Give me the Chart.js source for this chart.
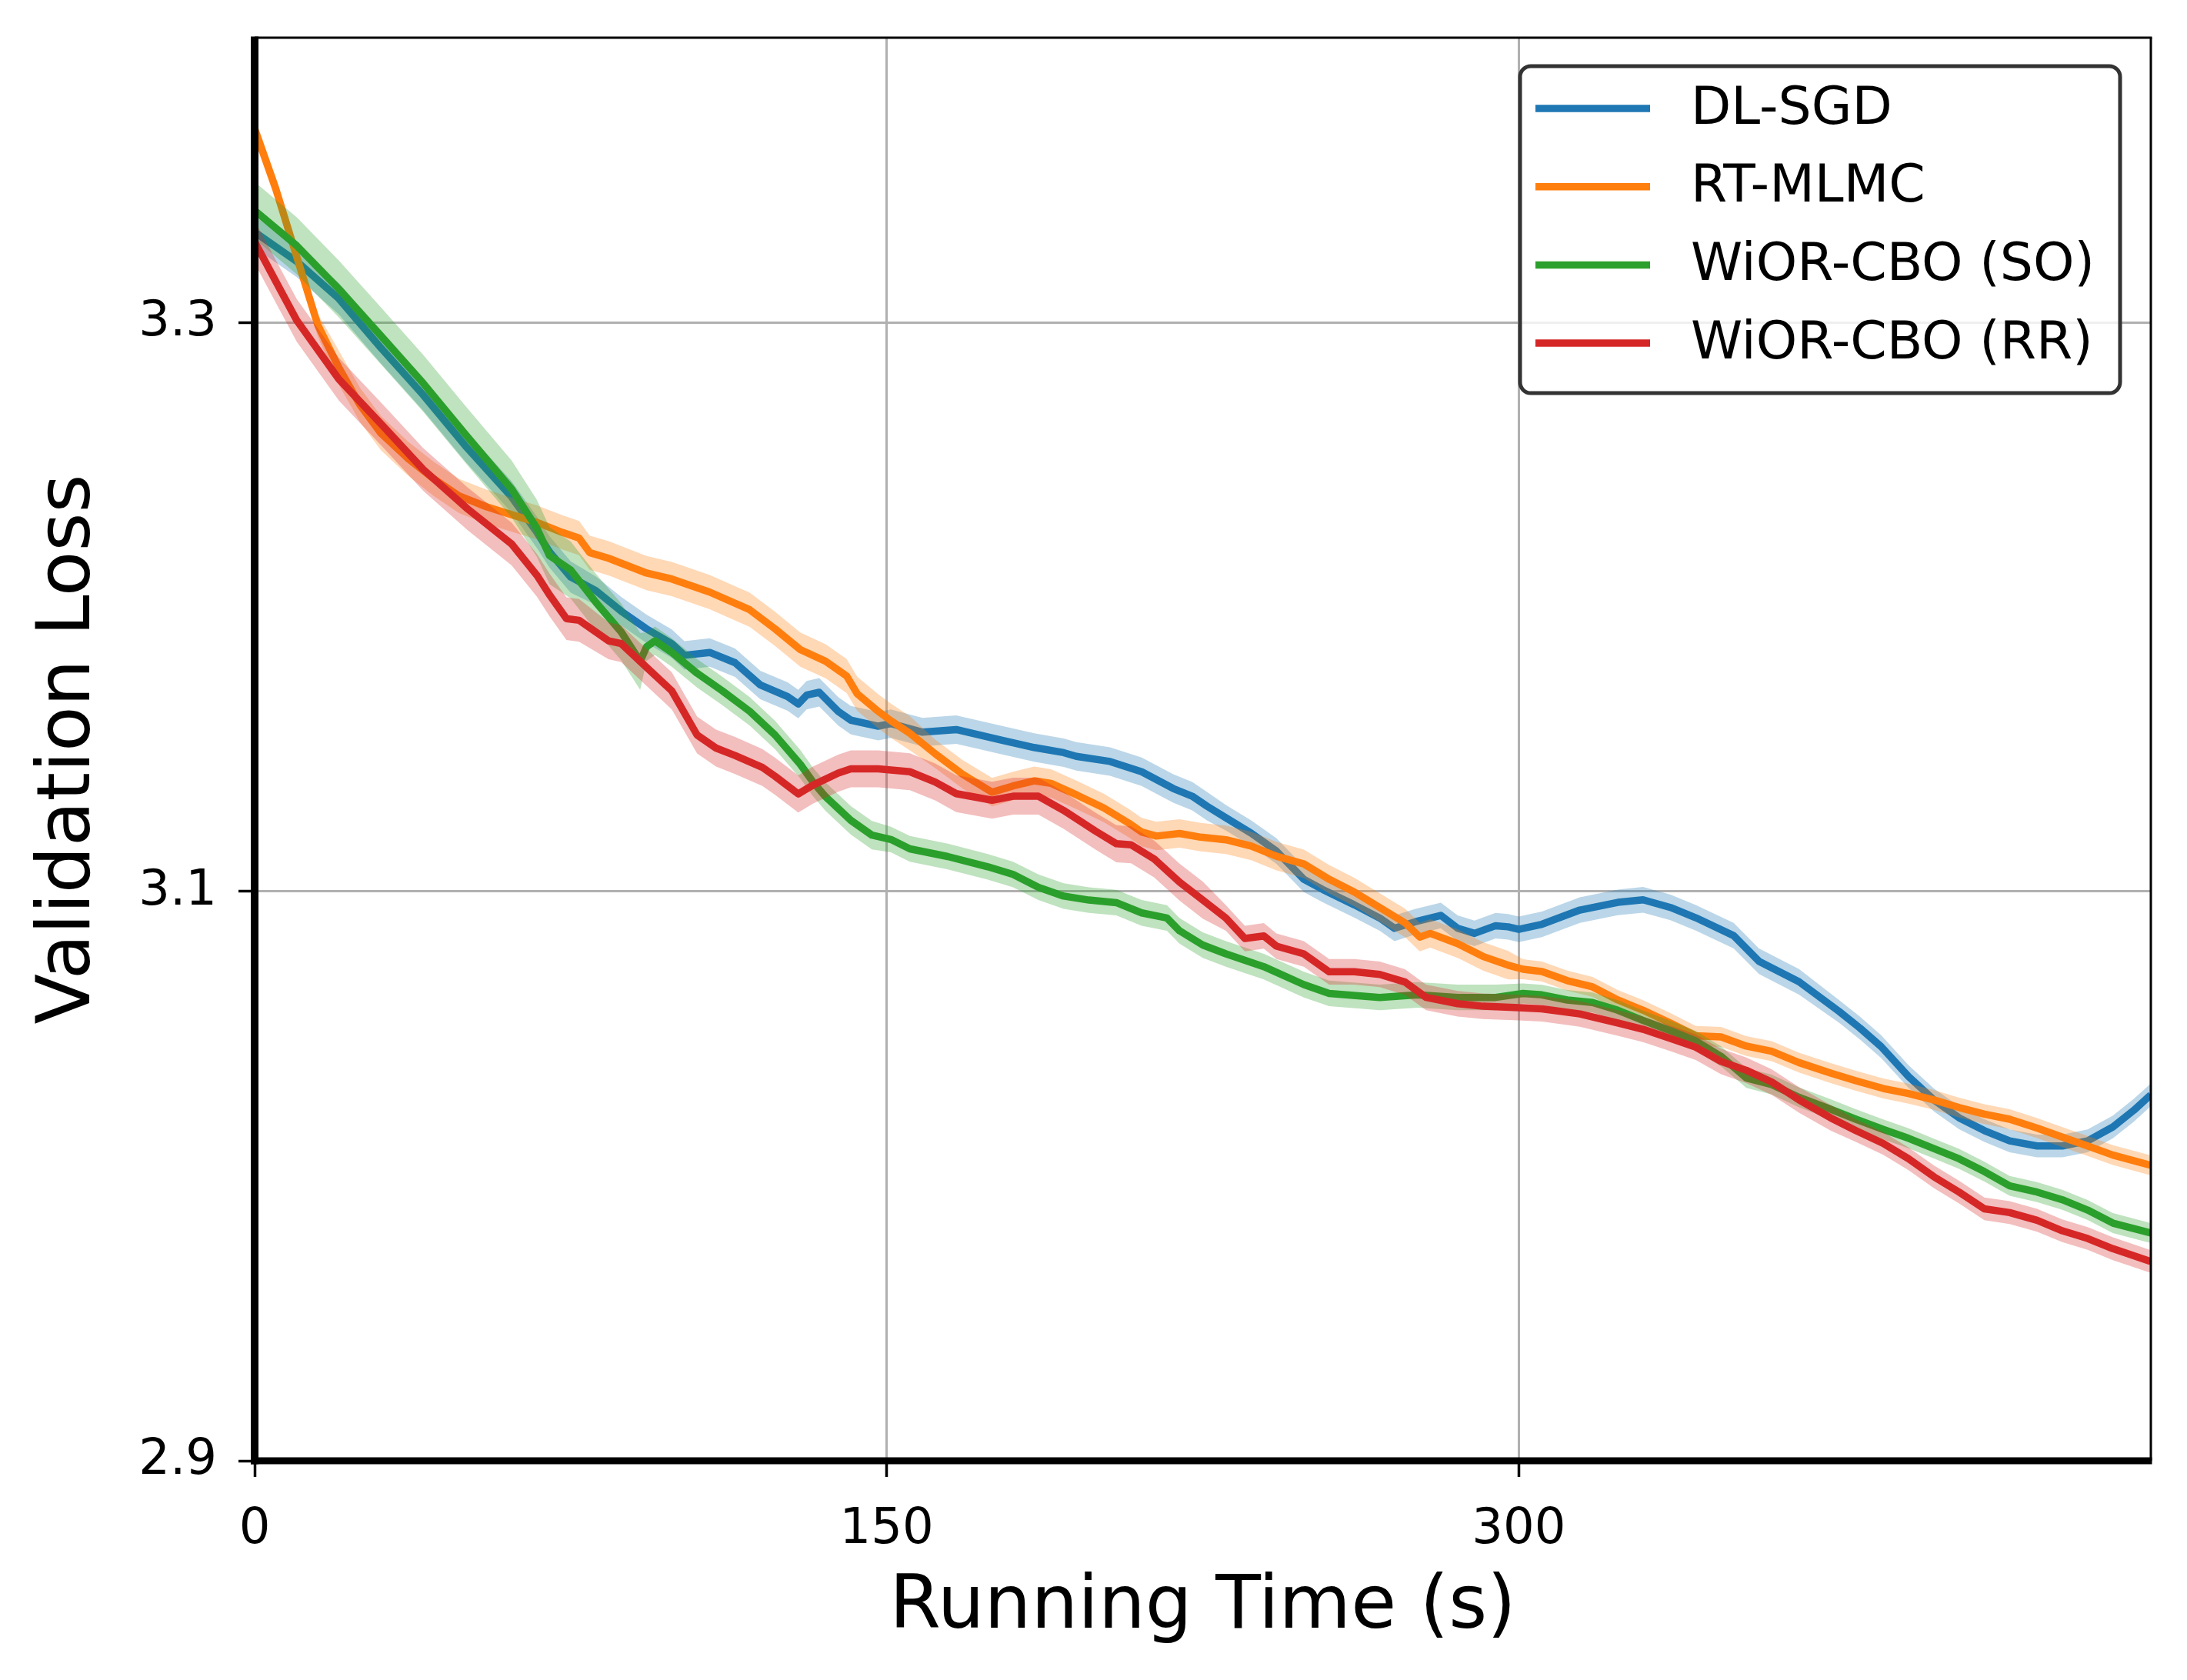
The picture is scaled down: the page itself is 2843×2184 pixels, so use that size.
<!DOCTYPE html>
<html>
<head>
<meta charset="utf-8">
<title>Validation Loss vs Running Time</title>
<script src="https://cdn.jsdelivr.net/npm/chart.js@4.4.1/dist/chart.umd.min.js"></script>
<style>
  body { margin: 0; background: #fff; }
  canvas { display: block; }
</style>
</head>
<body>
<canvas id="lossChart" width="2843" height="2184"></canvas>
<script>
let seriesNames = ['DL-SGD', 'RT-MLMC', 'WiOR-CBO (SO)', 'WiOR-CBO (RR)']
let colors = ['#1f77b4', '#ff7f0e', '#2ca02c', '#d62728']
let bandColors = ['rgba(31,119,180,0.3)', 'rgba(255,127,14,0.3)', 'rgba(44,160,44,0.3)', 'rgba(214,39,40,0.3)']

let xTicks = [0, 150, 300]
let yTicks = [2.9, 3.1, 3.3]

let sgdTime = [0, 10, 20, 30, 40, 50, 61, 67, 70, 75, 81, 87, 93, 99, 102, 108, 114, 120, 126.5, 129, 131, 134, 138.5, 141.5, 148, 151,
  158.5, 166.5, 177, 185, 192, 195, 203, 210.5, 218, 222.5, 226, 230.5, 236.5, 242.5, 249, 253.5, 261, 267, 270.5, 275.5, 281.5, 285.5,
  289.5, 294.5, 297.5, 300, 305.5, 314.5, 323.5, 329.5, 336, 342, 351, 357, 366.5, 376, 381, 386, 392.5, 398.5, 404.5, 410.5, 416.5,
  423, 429, 435, 441, 446, 450]
let sgdLoss = [3.3317, 3.3214, 3.3083, 3.291, 3.2745, 3.2566, 3.2386, 3.2262, 3.2193, 3.2105, 3.2057, 3.1985, 3.1923, 3.1871, 3.183,
  3.184, 3.1804, 3.1726, 3.1685, 3.1659, 3.169, 3.170, 3.1633, 3.1602, 3.1581, 3.159, 3.156, 3.1569, 3.1533, 3.1506, 3.1488, 3.1475,
  3.1457, 3.1421, 3.1362, 3.1335, 3.130, 3.1259, 3.1205, 3.1142, 3.1043, 3.1007, 3.0953, 3.0907, 3.0871, 3.0894, 3.0916, 3.0871,
  3.0853, 3.088, 3.0876, 3.0867, 3.0885, 3.0935, 3.0962, 3.0971, 3.0944, 3.0908, 3.0845, 3.0755, 3.0683, 3.0579, 3.052, 3.0455,
  3.035, 3.0268, 3.0205, 3.016, 3.0124, 3.0106, 3.0106, 3.0124, 3.0173, 3.0232, 3.0286]

let mlmcTime = [0, 5, 10, 15, 20, 25, 30, 36.5, 42.5, 48.5, 55, 61, 67, 73, 77, 79.5, 84, 93, 99, 108, 117.5, 123.5, 129.5, 135.5,
  140.5, 143, 148, 151, 155.5, 161.5, 168, 175, 180, 185, 189, 195, 201.5, 207.5, 210.5, 214, 219.5, 224.5, 230.5, 236.5, 242.5, 249,
  255, 261, 267, 273, 276.5, 279, 285.5, 291.5, 297.5, 301, 305.5, 311.5, 317.5, 323.5, 329.5, 336, 342, 348, 354, 360, 366.5, 374,
  380, 386.5, 392.5, 398.5, 404.5, 410.5, 416.5, 423, 429, 435, 441, 450]
let mlmcLoss = [3.368, 3.347, 3.323, 3.299, 3.284, 3.271, 3.261, 3.252, 3.245, 3.239, 3.2352, 3.2324, 3.2297, 3.2262, 3.2242, 3.2191,
  3.2171, 3.2119, 3.2098, 3.2052, 3.199, 3.1923, 3.185, 3.1809, 3.1757, 3.1695, 3.1633, 3.160, 3.1556, 3.1484, 3.1412, 3.1349, 3.1371,
  3.1389, 3.138, 3.134, 3.1294, 3.124, 3.1209, 3.1195, 3.1204, 3.1191, 3.1182, 3.116, 3.1124, 3.1097, 3.1043, 3.0998, 3.0944, 3.089,
  3.084, 3.0853, 3.0817, 3.0772, 3.0741, 3.0727, 3.0719, 3.0687, 3.0665, 3.0619, 3.0583, 3.0538, 3.0493, 3.0489, 3.0457, 3.0439,
  3.0399, 3.0362, 3.0335, 3.0308, 3.029, 3.0268, 3.0241, 3.0218, 3.02, 3.0169, 3.0137, 3.0106, 3.0074, 3.0038]

let soTime = [0, 10, 20, 30, 40, 50, 61, 67, 70, 75, 81, 87, 91.5, 93, 95, 99, 105, 111, 117.5, 123.5, 129.5, 132.5, 135.5, 141.5,
  146.5, 151, 155.5, 164.5, 174, 180, 186, 192, 198, 204.5, 210.5, 216.5, 219.5, 225, 230.5, 239.5, 249, 255, 267, 276, 285.5, 294.5,
  301, 305.5, 311.5, 317.5, 323.5, 329.5, 336, 342, 348, 354, 360, 366.5, 374, 380, 386.5, 392.5, 398.5, 404.5, 410.5, 416.5, 423,
  429, 435, 441, 450]
let soLoss = [3.3393, 3.3269, 3.3117, 3.2952, 3.2786, 3.2607, 3.2414, 3.2276, 3.218, 3.213, 3.2016, 3.1912, 3.1809, 3.186, 3.1881,
  3.184, 3.1767, 3.1705, 3.1633, 3.155, 3.1447, 3.1385, 3.1333, 3.125, 3.1198, 3.1183, 3.115, 3.1123, 3.1087, 3.106, 3.1015, 3.0984,
  3.097, 3.0961, 3.0925, 3.0907, 3.0862, 3.0812, 3.0781, 3.0736, 3.0673, 3.0642, 3.0628, 3.0637, 3.0628, 3.0628, 3.0642, 3.0637,
  3.0619, 3.061, 3.0583, 3.0547, 3.0511, 3.0475, 3.0421, 3.0345, 3.0322, 3.0277, 3.0235, 3.02, 3.0164, 3.0133, 3.0097, 3.0061,
  3.0016, 2.9966, 2.9944, 2.9917, 2.9881, 2.9835, 2.98]

let rrTime = [0, 6, 10, 20, 30.5, 40, 50.5, 61, 67, 70, 74, 77, 84, 87, 93, 99, 105, 109.5, 114, 120.5, 123.5, 129, 132.5, 138.5,
  141.5, 148, 155.5, 161.5, 166.5, 175, 180, 186, 192, 199.5, 204.5, 208, 213.5, 219.5, 225, 230.5, 235, 239.5, 242.5, 249, 255, 261,
  267, 273, 278, 285.5, 291.5, 300, 305.5, 314.5, 323.5, 329.5, 336, 342, 348, 354, 360, 366.5, 374, 380, 386.5, 392.5, 398.5, 404.5,
  410.5, 416.5, 423, 429, 435, 441, 450]
let rrLoss = [3.3283, 3.3117, 3.3007, 3.28, 3.2635, 3.2483, 3.2345, 3.2221, 3.2111, 3.2042, 3.1959, 3.1953, 3.1881, 3.1871, 3.1788,
  3.1705, 3.155, 3.1504, 3.1478, 3.1436, 3.1405, 3.1343, 3.1374, 3.1416, 3.1431, 3.1431, 3.1421, 3.1385, 3.1344, 3.1321, 3.1335,
  3.1335, 3.1285, 3.1213, 3.1168, 3.1164, 3.1114, 3.1033, 3.097, 3.0907, 3.0835, 3.0844, 3.0808, 3.0781, 3.0718, 3.0718, 3.0709,
  3.0682, 3.0628, 3.0606, 3.0597, 3.0592, 3.0588, 3.057, 3.0538, 3.0516, 3.0484, 3.0453, 3.0403, 3.0372, 3.0331, 3.0268, 3.0205,
  3.016, 3.0115, 3.0061, 2.9998, 2.9944, 2.9885, 2.9872, 2.9845, 2.9808, 2.9781, 2.9745, 2.97]

// half width of the shaded band: [from time, half width]
let sgdSpread = [[0, 0.0055], [80, 0.005], [230, 0.0045], [376, 0.004]]
let mlmcSpread = [[0, 0.004], [20, 0.006], [160, 0.005], [300, 0.0035]]
let soSpread = [[0, 0.010], [92, 0.005], [150, 0.0045], [300, 0.0035]]
let rrSpread = [[0, 0.0075], [80, 0.0065], [230, 0.0045], [376, 0.004]]

let series = [
  {time: sgdTime, loss: sgdLoss, spread: sgdSpread},
  {time: mlmcTime, loss: mlmcLoss, spread: mlmcSpread},
  {time: soTime, loss: soLoss, spread: soSpread},
  {time: rrTime, loss: rrLoss, spread: rrSpread}
]

let spreadAt = (steps, t) => {
  let w = steps[0][1]
  steps.forEach(s => { if (t >= s[0]) w = s[1] })
  return w
}

let datasets = []
let order = 100
series.forEach((s, i) => {
  let line = s.time.map((t, k) => ({x: t, y: s.loss[k]}))
  let upper = s.time.map((t, k) => ({x: t, y: s.loss[k] + spreadAt(s.spread, t)}))
  let lower = s.time.map((t, k) => ({x: t, y: s.loss[k] - spreadAt(s.spread, t)}))
  datasets.push({label: 'band_hi', data: upper, borderColor: 'rgba(0,0,0,0)', borderWidth: 0,
    pointRadius: 0, fill: false, order: order - 1, clip: 0})
  datasets.push({label: 'band_lo', data: lower, borderColor: 'rgba(0,0,0,0)', borderWidth: 0,
    pointRadius: 0, fill: '-1', backgroundColor: bandColors[i], order: order - 2, clip: 0})
  datasets.push({label: seriesNames[i], data: line, borderColor: colors[i], borderWidth: 9.5,
    borderJoinStyle: 'round', pointRadius: 0, fill: false, order: order, clip: 0})
  order -= 3
})

// matplotlib style frame: thick left/bottom, thin top/right
const frame = {
  id: 'frame',
  afterDatasetsDraw(chart) {
    const {ctx, chartArea: a} = chart
    let seg = (x1, y1, x2, y2, w) => {
      ctx.lineWidth = w
      ctx.beginPath(); ctx.moveTo(x1, y1); ctx.lineTo(x2, y2); ctx.stroke()
    }
    ctx.save()
    ctx.strokeStyle = '#000'
    seg(a.left, a.top, a.right + 1.5, a.top, 3)
    seg(a.right, a.top, a.right, a.bottom, 3)
    seg(a.left, a.top - 1.5, a.left, a.bottom + 4.5, 10)
    seg(a.left - 5, a.bottom, a.right + 1.5, a.bottom, 9)
    ctx.restore()
  }
}

const legendBox = {
  id: 'legendBox',
  afterDraw(chart) {
    const ctx = chart.ctx
    ctx.save()
    ctx.beginPath()
    ctx.roundRect(1976, 86, 780, 425, 14)
    ctx.fillStyle = 'rgba(255,255,255,0.8)'
    ctx.fill()
    ctx.lineWidth = 5
    ctx.strokeStyle = '#333333'
    ctx.stroke()
    ctx.font = '68px "DejaVu Sans"'
    ctx.textBaseline = 'middle'
    ctx.textAlign = 'left'
    seriesNames.forEach((name, i) => {
      let y = 141 + i * 101.7
      ctx.strokeStyle = colors[i]
      ctx.lineWidth = 9.5
      ctx.beginPath(); ctx.moveTo(1996, y); ctx.lineTo(2145, y); ctx.stroke()
      ctx.fillStyle = '#000'
      ctx.fillText(name, 2198, y + 2)
    })
    ctx.restore()
  }
}

let noEdgePadding = scale => {
  scale.paddingTop = 0
  scale.paddingBottom = 0
  scale.paddingLeft = 0
  scale.paddingRight = 0
}

Chart.defaults.font.family = '"DejaVu Sans", sans-serif'
Chart.defaults.color = '#000'

new Chart(document.getElementById('lossChart'), {
  type: 'line',
  data: {datasets: datasets},
  plugins: [frame, legendBox],
  options: {
    responsive: false,
    devicePixelRatio: 1,
    animation: false,
    events: [],
    layout: {padding: {left: 0, top: 49, right: 47, bottom: 0}},
    plugins: {legend: {display: false}, tooltip: {enabled: false}},
    scales: {
      x: {
        type: 'linear', min: 0, max: 450,
        afterFit: scale => { scale.height = 285; noEdgePadding(scale) },
        afterBuildTicks: scale => { scale.ticks = xTicks.map(v => ({value: v})) },
        border: {display: false},
        grid: {color: '#b0b0b0', lineWidth: 3, tickColor: '#000', tickWidth: 3.5, tickLength: 21},
        ticks: {font: {size: 64}, padding: 31, maxRotation: 0, callback: v => String(v)},
        title: {display: true, text: 'Running Time (s)', font: {size: 96}, padding: {top: 0, bottom: 35}}
      },
      y: {
        type: 'linear', min: 2.9, max: 3.4,
        afterFit: scale => { scale.width = 331; noEdgePadding(scale) },
        afterBuildTicks: scale => { scale.ticks = yTicks.map(v => ({value: v})) },
        border: {display: false},
        grid: {color: '#b0b0b0', lineWidth: 3, tickColor: '#000', tickWidth: 3.5, tickLength: 21},
        ticks: {font: {size: 64}, padding: 28, callback: v => v.toFixed(1)},
        title: {display: true, text: 'Validation Loss', font: {size: 96}, padding: {top: 33, bottom: 0}}
      }
    }
  }
})
</script>
</body>
</html>
